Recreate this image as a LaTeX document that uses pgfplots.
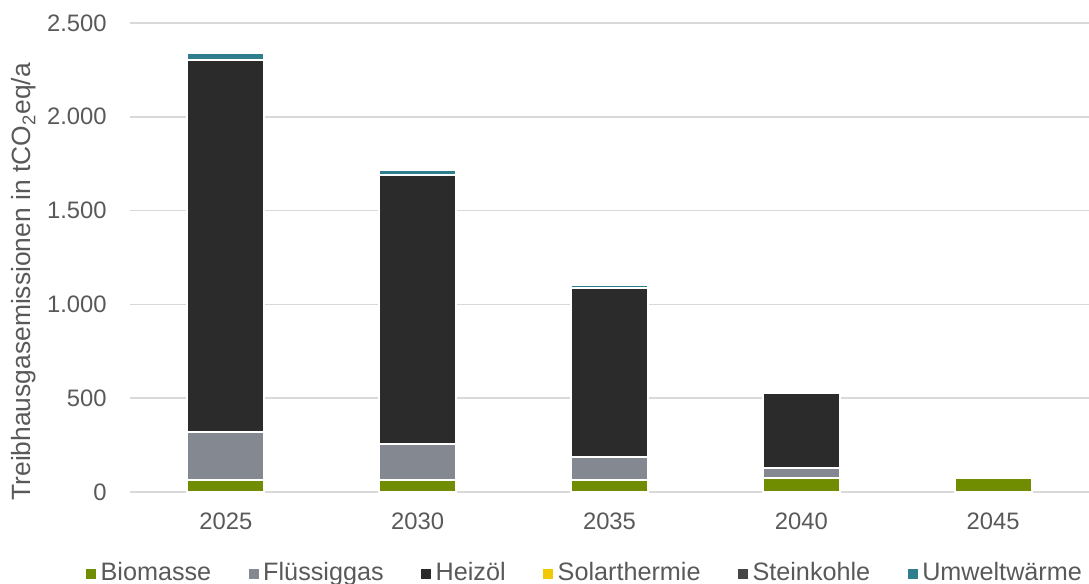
\documentclass[border=0pt]{standalone}
\usepackage{fontspec}
\setmainfont{Liberation Sans}
\usepackage{pgfplots}
\pgfplotsset{compat=1.18}
\definecolor{bio}{RGB}{112,140,0}
\definecolor{flue}{RGB}{132,137,145}
\definecolor{heiz}{RGB}{43,43,43}
\definecolor{solar}{RGB}{242,200,0}
\definecolor{stein}{RGB}{70,70,70}
\definecolor{umw}{RGB}{46,126,142}
\definecolor{gridgray}{RGB}{217,217,217}
\definecolor{labelgray}{RGB}{89,89,89}
\begin{document}
\begin{tikzpicture}
\begin{axis}[
  scale only axis, width=479.5pt, height=234.5pt,
  xmin=-0.5, xmax=4.5, ymin=0, ymax=2500,
  ybar stacked, bar width=38.5pt,
  xtick={0,1,2,3,4}, xticklabels={2025,2030,2035,2040,2045},
  ytick={0,500,1000,1500,2000,2500},
  ymajorgrids, grid style={draw=gridgray, line width=0.75pt},
  axis line style={draw=none}, tick style={draw=none},
  /pgf/number format/1000 sep={.},
  /pgf/number format/assume math mode=true,
  tick label style={font=\fontsize{11.9}{14}\selectfont, text=labelgray, inner sep=0pt},
  yticklabel style={anchor=east, xshift=-11.5pt},
  xticklabel style={anchor=base, yshift=-18.75pt},
  ylabel={Treibhausgasemissionen in tCO\textsubscript{2}eq/a},
  every axis y label/.style={at={(rel axis cs:-0.1105,0.448)}, rotate=90, anchor=center,
    font=\fontsize{13.2}{15}\selectfont, text=labelgray},
  legend style={at={(0.4745,-0.1727)}, anchor=center, draw=none, fill=none,
    legend columns=6, font=\fontsize{12.6}{15}\selectfont, text=labelgray,
    /tikz/every even column/.append style={column sep=17.8pt},
    nodes={inner sep=1pt}},
  legend image code/.code={\fill[#1, draw=none] (0pt,-3pt) rectangle (5pt,2pt);},
]
\addplot[fill=bio, draw=white, line width=1pt] coordinates {(0,62) (1,62) (2,62) (3,72) (4,72)};
\addplot[fill=flue, draw=white, line width=1pt] coordinates {(0,259) (1,195) (2,123) (3,54) (4,0)};
\addplot[fill=heiz, draw=white, line width=1pt] coordinates {(0,1984) (1,1435) (2,903) (3,402) (4,0)};
\addplot[fill=solar, draw=white, line width=1pt] coordinates {(0,0) (1,0) (2,0) (3,0) (4,0)};
\addplot[fill=stein, draw=white, line width=1pt] coordinates {(0,0) (1,0) (2,0) (3,0) (4,0)};
\addplot[fill=umw, draw=white, line width=1pt] coordinates {(0,36) (1,25) (2,16) (3,0) (4,0)};
\legend{\hspace{1.2pt}Biomasse, \hspace{1.2pt}Flüssiggas, \hspace{1.2pt}Heizöl, \hspace{1.2pt}Solarthermie, \hspace{1.2pt}Steinkohle, \hspace{1.2pt}Umweltwärme}
\end{axis}
\pgfresetboundingbox
\path (-65pt,-46pt) rectangle (479.5pt,246pt);
\end{tikzpicture}
\end{document}
